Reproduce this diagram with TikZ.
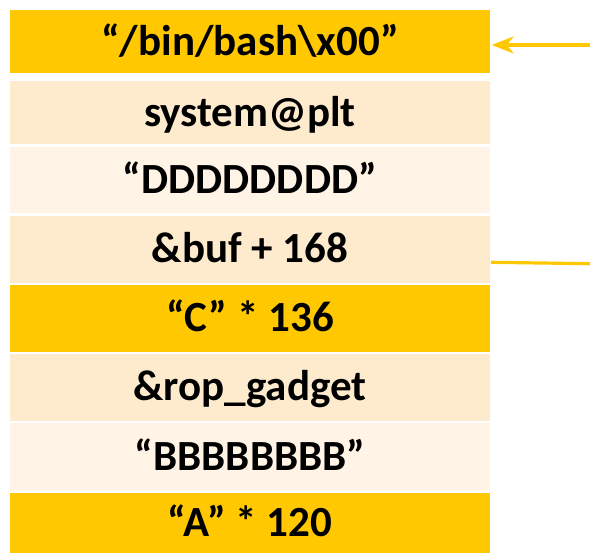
\documentclass[tikz,border=0pt]{standalone}
\usepackage{fontspec}
\setmainfont{Carlito}
\usetikzlibrary{arrows.meta}

\definecolor{slotgold}{HTML}{FFC800}
\definecolor{slotpeach}{HTML}{FEEACC}
\definecolor{slotlight}{HTML}{FFF4E5}

\tikzset{
  slot/.style={draw=none, inner sep=0pt, minimum width=480pt,
    text height=27pt, text depth=0pt,
    font=\fontsize{43}{43}\selectfont\bfseries},
  pointer/.style={draw=slotgold, line width=3.2pt},
}

\begin{document}
\begin{tikzpicture}[x=1pt,y=-1pt]
  \useasboundingbox (0,0) rectangle (590,553);

  % stack slots, top of the stack first
  \node[slot, fill=slotgold,  minimum height=63.5pt] (r1) at (250,41.75)  {“/bin/bash\textbackslash x00”};
  \node[slot, fill=slotpeach, minimum height=63.3pt] (r2) at (250,112.65) {system@plt};
  \node[slot, fill=slotlight, minimum height=66pt]   (r3) at (250,179.7)  {“DDDDDDDD”};
  \node[slot, fill=slotpeach, minimum height=67pt]   (r4) at (250,249.2)  {\&buf + 168};
  \node[slot, fill=slotgold,  minimum height=66.7pt] (r5) at (250,318.35) {“C” * 136};
  \node[slot, fill=slotpeach, minimum height=67pt]   (r6) at (250,387.5)  {\&rop\_gadget};
  \node[slot, fill=slotlight, minimum height=67.2pt] (r7) at (250,457.1)  {“BBBBBBBB”};
  \node[slot, fill=slotgold,  minimum height=60.3pt] (r8) at (250,522.85) {“A” * 120};

  % pointer into the top slot
  \coordinate (p1) at (590,45);
  \draw[pointer, -{Stealth[length=22pt,width=17pt,inset=7pt]}] (p1) -- ([xshift=1.5pt]p1 -| r1.east);

  % marker line beside the &buf slot
  \coordinate (p2s) at (491,262.3);
  \coordinate (p2e) at (590,263.7);
  \draw[pointer] (p2s) -- (p2e);
\end{tikzpicture}
\end{document}
